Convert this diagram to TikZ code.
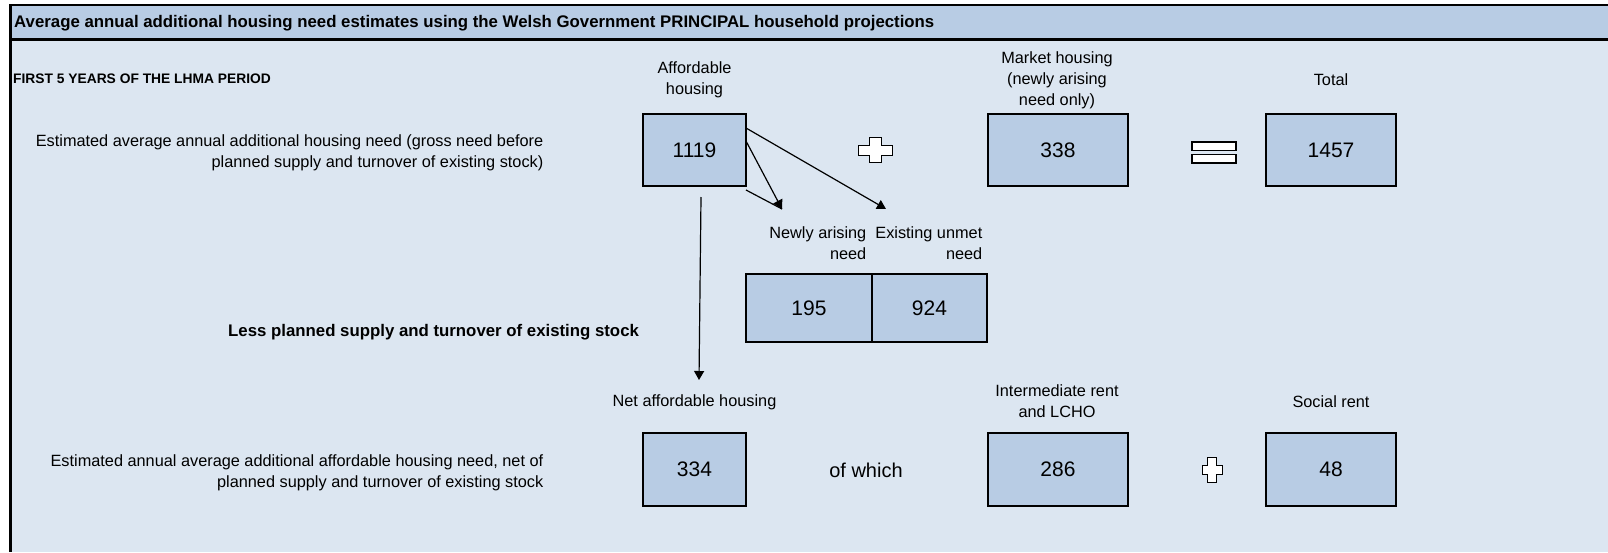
\documentclass[tikz,border=0pt]{standalone}
\usepackage{fontspec}
\setmainfont{Liberation Sans}
\usetikzlibrary{arrows.meta}
\definecolor{hdrc}{HTML}{B8CCE4}
\definecolor{bodyc}{HTML}{DCE6F1}
\definecolor{boxc}{HTML}{B8CCE4}
\begin{document}
\begin{tikzpicture}[x=1pt,y=-1pt,
  valbox/.style={draw=black, line width=2pt, fill=boxc, minimum width=103pt, minimum height=72pt, inner sep=0pt, font=\fontsize{21}{24}\selectfont},
  lbl/.style={inner sep=0pt, font=\fontsize{16.3}{21}\selectfont, align=center},
  boldlbl/.style={inner sep=0pt, font=\bfseries\fontsize{16.8}{19}\selectfont},
  conn/.style={line width=1.2pt, draw=black},
  tip/.style={-{Triangle[length=9pt,width=10pt]}},
  signshape/.style={draw=black, line width=1pt, fill=white}
]
\useasboundingbox (0,0) rectangle (1608,552);
\fill[white] (0,0) rectangle (1608,552);
\fill[bodyc] (10,4) rectangle (1608,552);
\fill[hdrc] (10,4) rectangle (1608,39);
\draw[line width=2.5pt] (1608,5) -- (10.5,5) -- (10.5,552);
\draw[line width=3pt] (10.5,39) -- (1608,39);

% texts
\node[boldlbl, anchor=west] (title) at (14,23) {Average annual additional housing need estimates using the Welsh Government PRINCIPAL household projections};
\node[inner sep=0pt, anchor=west, font=\bfseries\fontsize{13.8}{15}\selectfont] (first) at (13,79) {FIRST 5 YEARS OF THE LHMA PERIOD};
\node[lbl] (ahl) at (694.5,79.5) {Affordable\\housing};
\node[lbl] (mhl) at (1057,80.5) {Market housing\\(newly arising\\need only)};
\node[lbl] (tl) at (1331,79.5) {Total};
\node[lbl, anchor=east, align=right] (gross) at (543.5,153) {Estimated average annual additional housing need (gross need before\\planned supply and turnover of existing stock)};

% top row boxes
\node[valbox] (a) at (694.5,150) {1119};
\node[valbox, minimum width=140pt] (m) at (1058,150) {338};
\node[valbox, minimum width=130pt] (t) at (1331,150) {1457};

% plus sign 1
\draw[signshape] (869.5,137.5) -- (881.5,137.5) -- (881.5,145) -- (892.5,145) -- (892.5,155) -- (881.5,155) -- (881.5,162.5) -- (869.5,162.5) -- (869.5,155) -- (858.5,155) -- (858.5,145) -- (869.5,145) -- cycle;
% equals sign
\draw[signshape, line width=1.5pt] (1192,142) rectangle (1236,150.5);
\draw[signshape, line width=1.5pt] (1192,154.5) rectangle (1236,163);

% split row
\node[lbl, anchor=east, align=right] (newl) at (866.5,243.5) {Newly arising\\need};
\node[lbl, anchor=east, align=right] (exl) at (982.5,243.5) {Existing unmet\\need};
\node[valbox, minimum width=126pt, minimum height=68pt] (n1) at (809,308) {195};
\node[valbox, minimum width=115pt, minimum height=68pt] (n2) at (929.5,308) {924};

\node[boldlbl, anchor=west] (less) at (228,332) {Less planned supply and turnover of existing stock};

% bottom row
\node[lbl] (netl) at (694.5,402) {Net affordable housing};
\node[lbl] (intl) at (1057,401) {Intermediate rent\\and LCHO};
\node[lbl] (socl) at (1331,401.5) {Social rent};
\node[lbl, anchor=east, align=right] (netd) at (543.5,473) {Estimated annual average additional affordable housing need, net of\\planned supply and turnover of existing stock};
\node[valbox, minimum height=73pt] (b1) at (694.5,469.5) {334};
\node[inner sep=0pt, font=\fontsize{20}{24}\selectfont] (ofw) at (866,470) {of which};
\node[valbox, minimum width=140pt, minimum height=73pt] (b2) at (1058,469.5) {286};
\node[valbox, minimum width=130pt, minimum height=73pt] (b3) at (1331,469.5) {48};

% plus sign 2
\draw[signshape] (1207.5,457.5) -- (1216.5,457.5) -- (1216.5,465.5) -- (1222,465.5) -- (1222,474.5) -- (1216.5,474.5) -- (1216.5,482.5) -- (1207.5,482.5) -- (1207.5,474.5) -- (1202,474.5) -- (1202,465.5) -- (1207.5,465.5) -- cycle;

% connectors
\coordinate (v1) at (701,197);
\coordinate (v2) at (699,380);
\coordinate (p1) at (746,141);
\coordinate (p1b) at (746,190);
\coordinate (t1) at (782,209);
\coordinate (p2) at (746,128);
\coordinate (t2) at (886,209);
\draw[conn, tip] (v1) -- (v2);
\draw[conn] (p1b) -- (t1);
\draw[conn, tip] (p1) -- (t1);
\draw[conn, tip] (p2) -- (t2);
\end{tikzpicture}
\end{document}
